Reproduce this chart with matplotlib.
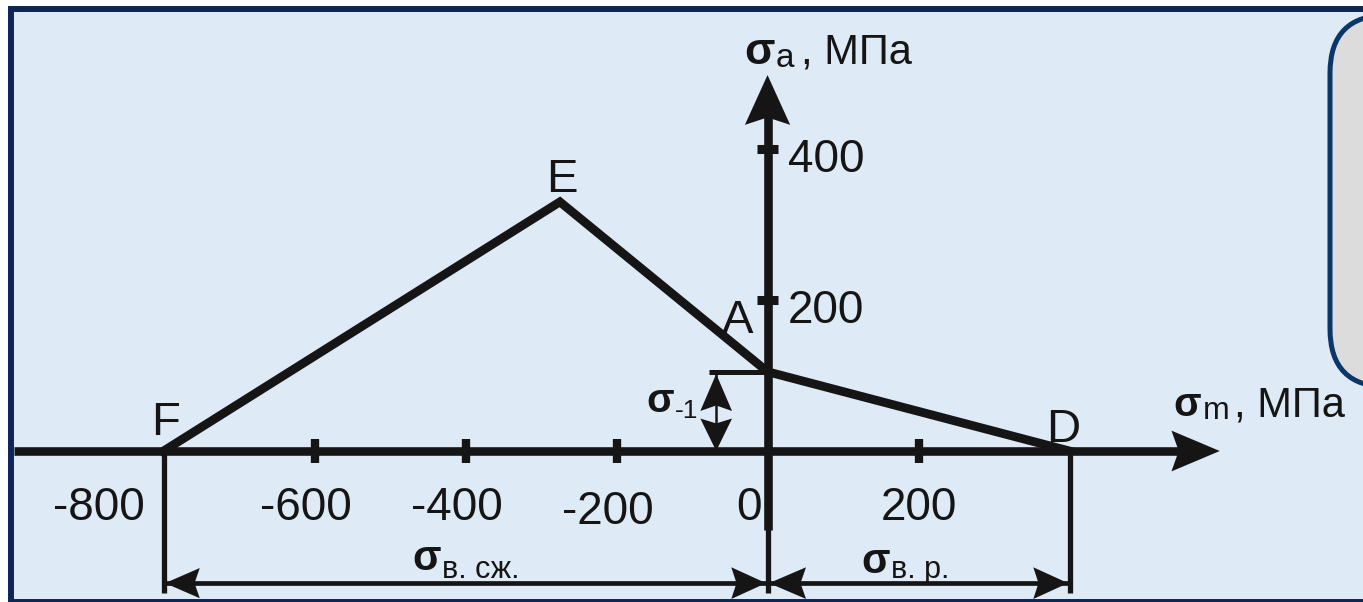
import matplotlib
matplotlib.use("Agg")
import matplotlib.pyplot as plt
from matplotlib.patches import Rectangle, FancyBboxPatch

plt.rcParams['font.family'] = ['Liberation Sans', 'DejaVu Sans']

# Haigh diagram corner points (sigma_m, sigma_a), MPa
point_names = ['F', 'E', 'A', 'D']
sigma_m = [-800, -275, 0, 400]
sigma_a = [0, 330, 105, 0]

x_ticks = [-600, -400, -200, 200]
x_tick_labels = ['-800', '-600', '-400', '-200', '0', '200']
x_label_vals = [-800, -600, -400, -200, 0, 200]
y_ticks = [200, 400]
y_tick_labels = ['200', '400']

INK = '#151515'
PAGE = '#DEEAF6'
NAVY = '#0D2658'

W, H = 1363, 602
fig = plt.figure(figsize=(W / 100, H / 100), dpi=100, facecolor='white')

# page frame and the grey note box on the right
fig.patches.append(Rectangle((11 / W, 0.5 / H), 1.2, (H - 9.5) / H,
                             transform=fig.transFigure, facecolor=PAGE,
                             edgecolor=NAVY, linewidth=4.3, zorder=0))
fig.patches.append(FancyBboxPatch((1330, H - 387), 200, 372,
                                  boxstyle='round,pad=0,rounding_size=58',
                                  transform=None, facecolor='#DCDCDC',
                                  edgecolor='#0B3668', linewidth=3.6, zorder=1))

ax = fig.add_axes([0, 0, 1, 1])
ax.set_zorder(2)
ax.set_xlim(-1016.6, 788.7)
ax.set_ylim(-200, 597.4)
ax.axis('off')
ax.patch.set_alpha(0)


def head(tip, direction, length, half, notch=0.15):
    # filled arrowhead, sizes in data units (scale is the same on both axes)
    tx, ty = tip
    dx, dy = direction
    px, py = -dy, dx
    bx, by = tx - dx * length, ty - dy * length
    nx, ny = tx - dx * length * (1 - notch), ty - dy * length * (1 - notch)
    ax.fill([tx, bx + px * half, nx, bx - px * half],
            [ty, by + py * half, ny, by - py * half],
            color=INK, lw=0, zorder=5)


# coordinate axes
ax.plot([-998, 560], [0, 0], color=INK, lw=6.2, solid_capstyle='butt', zorder=3)
head((599, 0), (1, 0), 64, 27)
ax.plot([0, 0], [-105, 450], color=INK, lw=6.2, solid_capstyle='butt', zorder=3)
head((0, 498), (0, 1), 66, 30)

for t in x_ticks:
    ax.plot([t, t], [-16.5, 16.5], color=INK, lw=6, solid_capstyle='butt', zorder=3)
for t in y_ticks:
    ax.plot([-14, 14], [t, t], color=INK, lw=6.5, solid_capstyle='butt', zorder=3)

# diagram F-E-A-D
ax.plot(sigma_m, sigma_a, color=INK, lw=6.3, solid_joinstyle='miter', zorder=4)

name_pos = {'F': (-797, 21), 'E': (-273, 343), 'A': (-39, 156), 'D': (391, 12)}
for n in point_names:
    ax.text(*name_pos[n], n, fontsize=34, color=INK, ha='center', va='baseline')

# tick labels
x_nudge = {-800: -86, -600: -12, -400: -12, -200: -11, 0: -24, 200: 0}
x_base = {-200: -97}
for v, s in zip(x_label_vals, x_tick_labels):
    ax.text(v + x_nudge[v], x_base.get(v, -91), s, fontsize=33, color=INK,
            ha='center', va='baseline')
y_base = {200: 169, 400: 370}
for v, s in zip(y_ticks, y_tick_labels):
    ax.text(27, y_base[v], s, fontsize=33, color=INK, ha='left', va='baseline')

# sigma_-1 dimension
a_y = sigma_a[2]
ax.plot([-77.5, 0], [a_y, a_y], color=INK, lw=3.6, solid_capstyle='butt', zorder=3)
ax.plot([-68, -68], [a_y, 0], color=INK, lw=1.8, zorder=3)
head((-68, a_y - 3), (0, 1), 49, 21)
head((-68, 0), (0, -1), 43, 21)

# ultimate strength dimensions below the axis
f_x, d_x = sigma_m[0], sigma_m[3]
dim_y = -175
for xv in (f_x, 0, d_x):
    ax.plot([xv, xv], [0, -188], color=INK, lw=3.8, solid_capstyle='butt', zorder=3)
ax.plot([f_x, d_x], [dim_y, dim_y], color=INK, lw=3.4, zorder=3)
head((f_x + 2, dim_y), (-1, 0), 46, 20)
head((-2, dim_y), (1, 0), 46, 21)
head((2, dim_y), (-1, 0), 49, 21)
head((d_x - 2, dim_y), (1, 0), 46, 21)


def sigma_label(x, y, sub, sub_y, sig_size, sub_size, tail=None, tail_size=None, gap=1):
    s = ax.text(x, y, 'σ', fontsize=sig_size, fontweight='bold', color=INK,
                ha='left', va='baseline')
    b = ax.annotate(sub, xy=(1, sub_y), xycoords=(s, 'data'), xytext=(1, 0),
                    textcoords='offset points', fontsize=sub_size, color=INK,
                    ha='left', va='baseline')
    if tail:
        ax.annotate(tail, xy=(1, y), xycoords=(b, 'data'), xytext=(gap, 0),
                    textcoords='offset points', fontsize=tail_size, color=INK,
                    ha='left', va='baseline')


sigma_label(-31, 513, 'a', 508, 32, 24, ', МПа', 30, gap=5)
sigma_label(538, 46, 'm', 43, 29, 23, ', МПа', 30, gap=3)
sigma_label(-161, 51.7, '-1', 43.7, 29, 19)
sigma_label(-471, -157.6, 'в. сж.', -168, 30, 22)
sigma_label(124, -161.6, 'в. р.', -168, 30, 22)

fig.savefig('out.png', dpi=100, facecolor='white')
